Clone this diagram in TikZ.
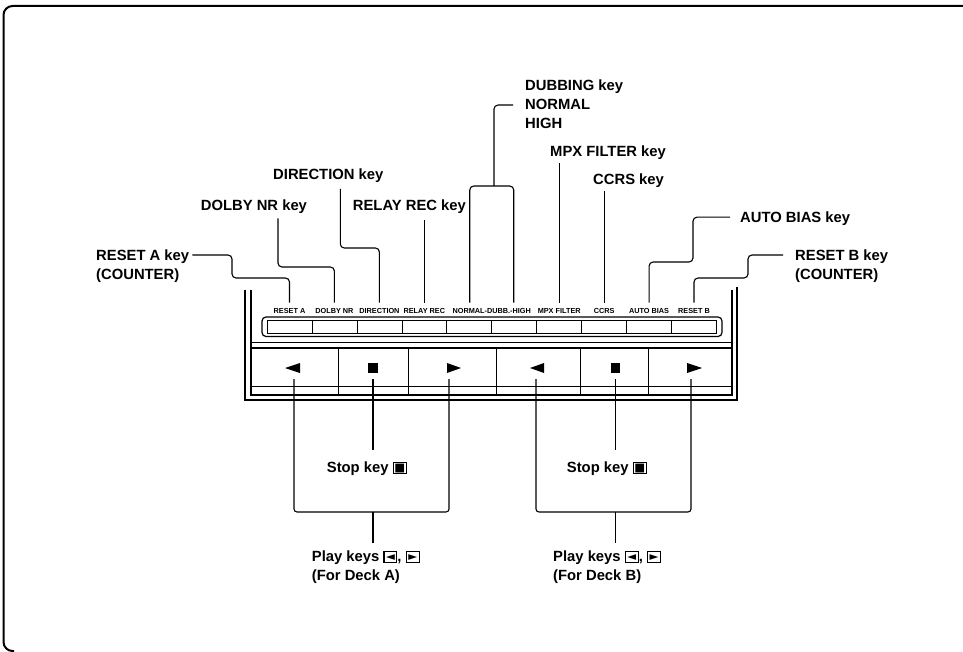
\documentclass[tikz,border=0pt]{standalone}
\usepackage{fontspec}
\setmainfont{Liberation Sans}
\newfontfamily\symfont{DejaVu Sans}
\usetikzlibrary{calc}
\newcommand{\kbox}[1]{{\setlength{\fboxsep}{0.4pt}\setlength{\fboxrule}{1.1pt}\fbox{\rule{0pt}{8.6pt}\makebox[11pt]{\raisebox{0.6pt}{\symfont\fontsize{11.5}{11.5}\selectfont #1}}}}}
\begin{document}
\begin{tikzpicture}[x=1pt,y=-1pt,
  callout/.style={font=\bfseries\fontsize{14.8}{19}\selectfont, inner sep=0pt, align=left},
  plab/.style={font=\bfseries\fontsize{7.3}{8}\selectfont, inner sep=0pt, anchor=base},
  leader/.style={line width=1.1pt, rounded corners=4pt},
  tolab/.style={leader, shorten >=5pt},
  panel/.style={line width=1.2pt},
  fine/.style={line width=0.7pt},
  frame/.style={line width=2pt, rounded corners=9pt}]
\useasboundingbox (0,0) rectangle (963,652);
% outer frame
\draw[frame] (963,6) -- (3.5,6) -- (3.5,651) -- (14,651);

% ---- panel ----
\draw[panel] (245,290) -- (245,400) -- (737,400) -- (737,287);
\draw[panel] (251,290) -- (251,348);
\draw[panel] (732,290) -- (732,348);
\draw[fine] (251,342) -- (732,342);
\draw[panel] (251,348) rectangle (732,395);
\draw[fine] (251,386.5) -- (732,386.5);
\foreach \x in {338,408,496,580,648} \draw[fine] (\x,348) -- (\x,395);
\draw[panel, rounded corners=4pt] (262,317) rectangle (722,336.5);
\draw[fine] (267,320.5) rectangle (716.5,333);
\foreach \i in {1,...,9} \draw[fine] ({267+44.95*\i},320.5) -- ({267+44.95*\i},333);

% panel labels
\node[plab] (pRA)  at (289.5,313) {RESET A};
\node[plab] (pDN)  at (334.4,313) {DOLBY NR};
\node[plab] (pDIR) at (379.4,313) {DIRECTION};
\node[plab] (pRR)  at (424.3,313) {RELAY REC};
\node[plab] (pND)  at (491.75,313) {NORMAL-DUBB.-HIGH};
\node[plab] (pMPX) at (559.2,313) {MPX FILTER};
\node[plab] (pCC)  at (604.1,313) {CCRS};
\node[plab] (pAB)  at (649.1,313) {AUTO BIAS};
\node[plab] (pRB)  at (694,313) {RESET B};

% key symbols
\fill (285,368) -- (300,363) -- (300,373) -- cycle;
\fill (368,363) rectangle (378,373);
\fill (461,368) -- (447,363) -- (447,373) -- cycle;
\fill (530,368) -- (544,363) -- (544,373) -- cycle;
\fill (611,363) rectangle (620,373);
\fill (702,368) -- (687,363) -- (687,373) -- cycle;

\coordinate (kA1) at (294,379);
\coordinate (kA2) at (373,379);
\coordinate (kA3) at (449,379);
\coordinate (kB1) at (536,379);
\coordinate (kB2) at (615.5,379);
\coordinate (kB3) at (691,379);
\coordinate (jA) at (373,512);
\coordinate (jB) at (615.5,512);

% ---- callouts ----
\node[callout, anchor=north west] (cRA) at (96,249.4) {RESET A key\\(COUNTER)};
\node[callout, anchor=base west] (cDN) at (200.7,211) {DOLBY NR key};
\node[callout, anchor=base west] (cDIR) at (273,179.5) {DIRECTION key};
\node[callout, anchor=base west] (cRR) at (352.7,211) {RELAY REC key};
\node[callout, anchor=north west] (cDUB) at (525,79.4) {DUBBING key\\NORMAL\\HIGH};
\node[callout, anchor=base west] (cMPX) at (550,157) {MPX FILTER key};
\node[callout, anchor=base west] (cCC) at (593,185) {CCRS key};
\node[callout, anchor=base west] (cAB) at (740,223) {AUTO BIAS key};
\node[callout, anchor=north west] (cRB) at (795,249.4) {RESET B key\\(COUNTER)};

\node[callout, anchor=base west] (stopA) at (326.7,472) {Stop key \kbox{■}};
\node[callout, anchor=base west] (stopB) at (566.7,472) {Stop key \kbox{■}};
\node[callout, anchor=north west] (playA) at (311.7,550.4) {Play keys \kbox{◄}, \kbox{►}\\(For Deck A)};
\node[callout, anchor=north west] (playB) at (553,550.4) {Play keys \kbox{◄}, \kbox{►}\\(For Deck B)};

% ---- leaders ----
\draw[tolab] ($(cRA.north east)+(3,5.6)$) -| (232,278) -| (pRA.north);
\draw[tolab] ($(cDN.south)+(24,4)$) |- (pDN.north |- 0,267) -- (pDN.north);
\draw[tolab] ($(cDIR.south)+(12,6)$) |- (pDIR.north |- 0,248) -- (pDIR.north);
\draw[tolab, shorten <=6pt] (cRR.south -| pRR.north) -- (pRR.north);
\draw[leader] ($(cDUB.west)+(-12,1)$) -| (494,186);
\draw[leader, shorten <=5pt, shorten >=5pt] ([xshift=-22pt]pND.north) |- (494,186) -| ([xshift=22pt]pND.north);
\draw[tolab, shorten <=3pt] (cMPX.south -| pMPX.north) -- (pMPX.north);
\draw[tolab, shorten <=2.5pt] (cCC.south -| pCC.north) -- (pCC.north);
\draw[tolab] ($(cAB.west)+(-10,-2)$) -| (693,262) -| (pAB.north);
\draw[tolab] ($(cRB.north west)+(-12,5.6)$) -| (748,278) -| (pRB.north);

\draw[leader, shorten >=11pt] (kA2) -- (stopA.north -| kA2);
\draw[leader, shorten >=11pt] (kB2) -- (stopB.north -| kB2);
\draw[leader, rounded corners=3pt] (kA1) |- (jA) -| (kA3);
\draw[leader, rounded corners=3pt] (kB1) |- (jB) -| (kB3);
\draw[leader, shorten >=7pt] (jA) -- (playA.north -| jA);
\draw[leader, shorten >=7pt] (jB) -- (playB.north -| jB);
\end{tikzpicture}
\end{document}
